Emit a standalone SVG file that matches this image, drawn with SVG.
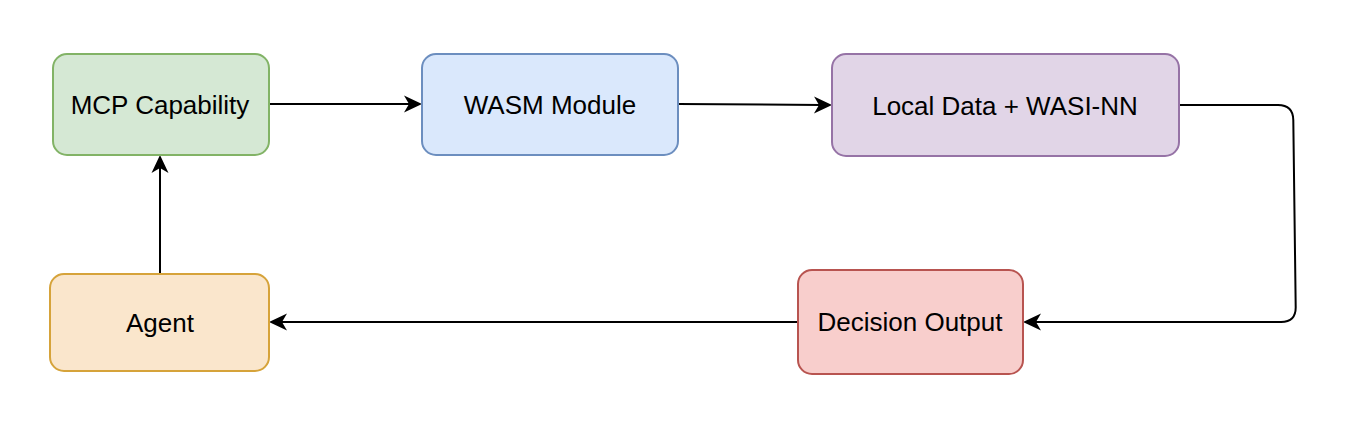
<svg xmlns="http://www.w3.org/2000/svg" width="1366" height="442" viewBox="0 0 1366 442">
<defs>
<style>
.node{stroke-width:2}
.lbl{font-family:"Liberation Sans",Arial,Helvetica,sans-serif;font-size:26px;fill:#000;text-anchor:middle}
.edge{fill:none;stroke:#000;stroke-width:2}
</style>
<marker id="arr" markerUnits="userSpaceOnUse" markerWidth="22" markerHeight="22" viewBox="-21 -11 22 22" refX="-10" refY="0" orient="auto">
<path d="M0,0 L-18,-8.5 L-13,0 L-18,8.5 Z" fill="#000"/>
</marker>
</defs>
<rect width="1366" height="442" fill="#fff"/>
<g id="connectors">
<path class="edge" d="M269,104 L412,104" marker-end="url(#arr)"/>
<path class="edge" d="M678,104 L822,105" marker-end="url(#arr)"/>
<path class="edge" d="M1179,105 L1278,105 Q1293,105 1293.3,120 L1295.7,307 Q1296,322 1281,322 L1033,322" marker-end="url(#arr)"/>
<path class="edge" d="M798,322 L279,322" marker-end="url(#arr)"/>
<path class="edge" d="M160,274 L160,165" marker-end="url(#arr)"/>
</g>
<g id="mcp">
<rect class="node" x="53" y="54" width="216" height="101" rx="14" fill="#d5e8d4" stroke="#82b366"/>
<text class="lbl" x="160" y="114">MCP Capability</text>
</g>
<g id="wasm">
<rect class="node" x="422" y="54" width="256" height="101" rx="14" fill="#dae8fc" stroke="#6c8ebf"/>
<text class="lbl" x="550" y="114">WASM Module</text>
</g>
<g id="local">
<rect class="node" x="832" y="54" width="347" height="102" rx="14" fill="#e1d5e7" stroke="#9673a6"/>
<text class="lbl" x="1005" y="115">Local Data + WASI-NN</text>
</g>
<g id="decision">
<rect class="node" x="798" y="270" width="225" height="104" rx="14" fill="#f8cecc" stroke="#b85450"/>
<text class="lbl" x="910" y="331">Decision Output</text>
</g>
<g id="agent">
<rect class="node" x="50" y="274" width="219" height="97" rx="14" fill="#fae6cc" stroke="#d6a33a"/>
<text class="lbl" x="160" y="332">Agent</text>
</g>
</svg>
